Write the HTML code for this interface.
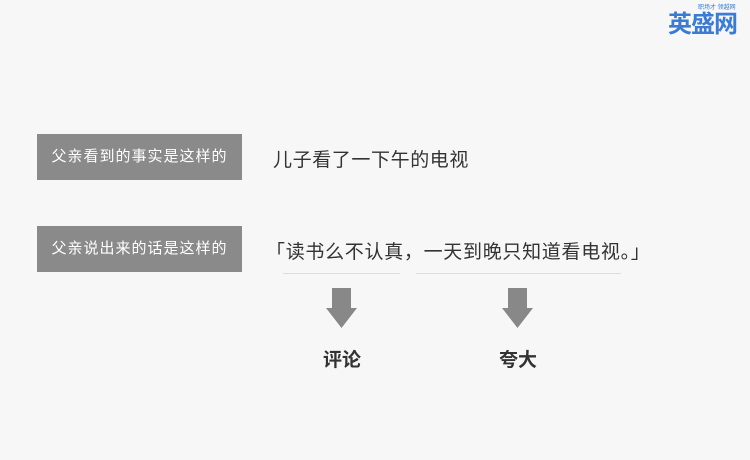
<!DOCTYPE html>
<html><head><meta charset="utf-8"><style>
body{margin:0;width:750px;height:460px;background:#f7f7f7;position:relative;overflow:hidden;font-family:"Liberation Sans","Noto Sans CJK SC",sans-serif}
.box{position:absolute;left:37px;width:205px;height:46px;background:#8a8a8a;color:#fff;font-size:15px;line-height:46px;text-align:center;letter-spacing:1px}
.t{position:absolute;color:#333;font-size:19px;white-space:nowrap;letter-spacing:0.6px}
.ln{position:absolute;top:273px;height:1px;background:#ddd}
.lab{position:absolute;top:345px;font-size:19px;font-weight:bold;color:#333;width:80px;text-align:center}
</style></head><body>
<div style="position:absolute;left:668px;top:4px;font-size:24px;font-weight:bold;color:#3a7bd5;letter-spacing:-1px">英盛网</div>
<div style="position:absolute;left:698px;top:2px;font-size:6px;color:#3a7bd5">职场才 领越网</div>
<div class="box" style="top:134px">父亲看到的事实是这样的</div>
<div class="box" style="top:226px">父亲说出来的话是这样的</div>
<div class="t" style="left:273px;top:145px">儿子看了一下午的电视</div>
<div class="t" style="left:266px;top:237px;letter-spacing:0.7px">「读书么不认真，一天到晚只知道看电视。」</div>
<div class="ln" style="left:283px;width:117px"></div>
<div class="ln" style="left:416px;width:205px"></div>
<svg style="position:absolute;left:0;top:0" width="750" height="460">
<path d="M332 288h19v20h6l-15.5 20l-15.5-20h6z" fill="#888"/>
<path d="M508 288h19v20h6l-15.5 20l-15.5-20h6z" fill="#888"/>
</svg>
<div class="lab" style="left:302px">评论</div>
<div class="lab" style="left:478px">夸大</div>
</body></html>
